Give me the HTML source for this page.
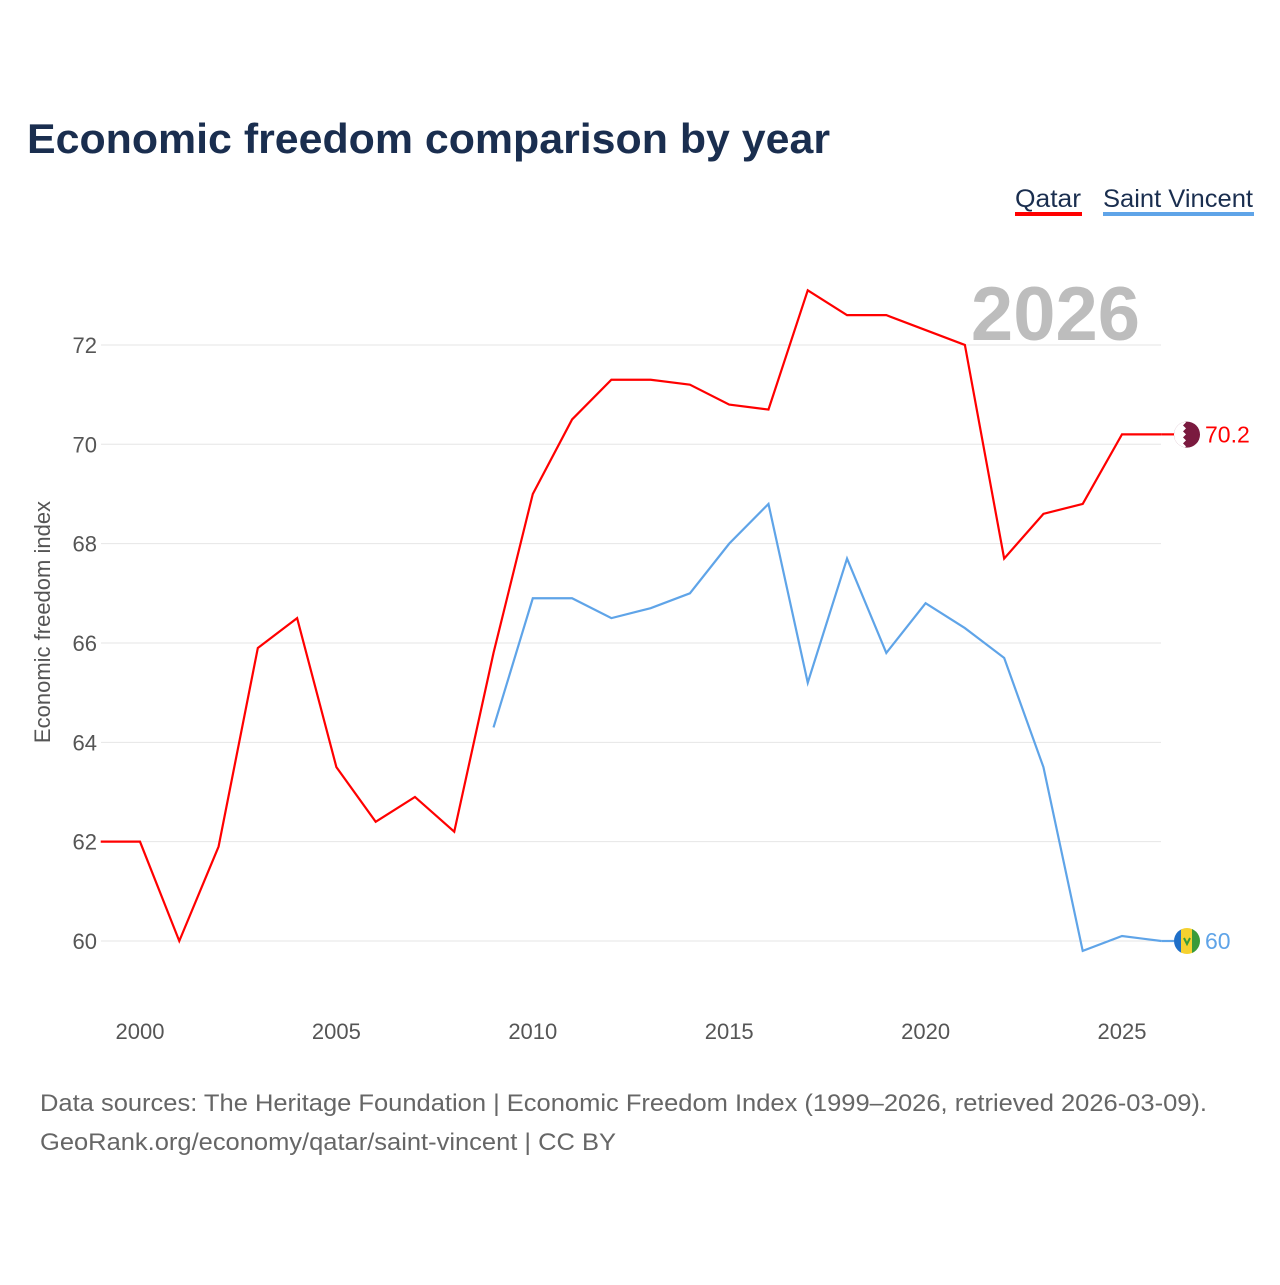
<!DOCTYPE html>
<html><head><meta charset="utf-8">
<style>
body{margin:0;background:#fff;width:1280px;height:1280px;overflow:hidden;font-family:"Liberation Sans",sans-serif}
</style></head>
<body>
<svg width="1280" height="1280">
<defs>
<clipPath id="cq"><circle cx="1187" cy="434.6" r="13"/></clipPath>
<clipPath id="cs"><circle cx="1187" cy="941" r="13"/></clipPath>
</defs>
<text x="27" y="153" font-size="42" font-weight="bold" fill="#1a2e4f" textLength="803" lengthAdjust="spacingAndGlyphs">Economic freedom comparison by year</text>
<g><text x="1015" y="207" font-size="25" fill="#1a2e4f" textLength="66" lengthAdjust="spacingAndGlyphs">Qatar</text><rect x="1015" y="212" width="67" height="4" fill="#ff0000"/></g>
<g><text x="1103" y="207" font-size="25" fill="#1a2e4f" textLength="150" lengthAdjust="spacingAndGlyphs">Saint Vincent</text><rect x="1103" y="212" width="151" height="4" fill="#5fa4e8"/></g>
<text x="1140" y="340" font-size="76" font-weight="bold" fill="#bdbdbd" text-anchor="end">2026</text>
<g id="grid"></g><g id="xt"></g><g id="lines"></g>
<text transform="translate(50,622) rotate(-90)" font-size="22" fill="#555" text-anchor="middle">Economic freedom index</text>
<text x="40" y="1111" font-size="24" fill="#666" textLength="1167" lengthAdjust="spacingAndGlyphs">Data sources: The Heritage Foundation | Economic Freedom Index (1999–2026, retrieved 2026-03-09).</text>
<text x="40" y="1150" font-size="24" fill="#666" textLength="576" lengthAdjust="spacingAndGlyphs">GeoRank.org/economy/qatar/saint-vincent | CC BY</text>
</svg>
<script>
const qatarYears=[1999,2000,2001,2002,2003,2004,2005,2006,2007,2008,2009,2010,2011,2012,2013,2014,2015,2016,2017,2018,2019,2020,2021,2022,2023,2024,2025,2026];
const qatarValues=[62.0,62.0,60.0,61.9,65.9,66.5,63.5,62.4,62.9,62.2,65.8,69.0,70.5,71.3,71.3,71.2,70.8,70.7,73.1,72.6,72.6,72.3,72.0,67.7,68.6,68.8,70.2,70.2];
const svcYears=[2009,2010,2011,2012,2013,2014,2015,2016,2017,2018,2019,2020,2021,2022,2023,2024,2025,2026];
const svcValues=[64.3,66.9,66.9,66.5,66.7,67.0,68.0,68.8,65.2,67.7,65.8,66.8,66.3,65.7,63.5,59.8,60.1,60.0];
const yTicks=[60,62,64,66,68,70,72];
const xTicks=[2000,2005,2010,2015,2020,2025];
const X=y=>140+(y-2000)*39.28, Y=v=>941-(v-60)*49.67;
const NS="http://www.w3.org/2000/svg";
function mk(t,a,p){const e=document.createElementNS(NS,t);for(const k in a)e.setAttribute(k,a[k]);p.appendChild(e);return e;}
const g=document.getElementById('grid');
yTicks.forEach(v=>{
 const l=mk('line',{x1:101,x2:1161,y1:Y(v),y2:Y(v),stroke:'#e6e6e6','stroke-width':1},g);
 
 
 const t=mk('text',{x:97,y:Y(v)+8,'font-size':22,fill:'#555','text-anchor':'end'},g);t.textContent=v;
 
 
});
const xt=document.getElementById('xt');
xTicks.forEach(v=>{const t=mk('text',{x:X(v),y:1039,'font-size':22,fill:'#555','text-anchor':'middle'},xt);t.textContent=v;
 
 });
const L=document.getElementById('lines');
function series(ys,vs,c,name){
 const p=mk('polyline',{points:ys.map((y,i)=>X(y)+','+Y(vs[i])).join(' '),fill:'none',stroke:c,'stroke-width':2.2},L);
 
 
 const last=vs[vs.length-1], cy=Y(last);
 mk('line',{x1:X(ys[ys.length-1]),x2:1174,y1:cy,y2:cy,stroke:c,'stroke-width':2.2},L);
 const fg=mk('g',{'clip-path':name=='qatar'?'url(#cq)':'url(#cs)'},L);
 
 
 if(name=='qatar'){
  mk('rect',{x:1170,y:cy-15,width:34,height:30,fill:'#7a1a3f'},fg);
  mk('path',{d:`M1170,${cy-15} h13 l3,3 l-3,3 l3,3 l-3,3 l3,3 l-3,3 l3,3 l-3,3 l3,3 l-3,3 l-13,0z`,fill:'#fff'},fg);
 } else {
  mk('rect',{x:1170,y:cy-15,width:12,height:30,fill:'#1f6fc8'},fg);
  mk('rect',{x:1181,y:cy-15,width:12,height:30,fill:'#f5d130'},fg);
  mk('rect',{x:1192,y:cy-15,width:12,height:30,fill:'#3a9b3a'},fg);
  mk('path',{d:`M1184,${cy-3} l3,6 l3,-6`,fill:'none',stroke:'#3a9b3a','stroke-width':2},fg);
 }
 const t=mk('text',{x:1205,y:cy+8,'font-size':23,fill:c},L);t.textContent=last;
 
 
}
series(qatarYears,qatarValues,'#ff0000','qatar');
series(svcYears,svcValues,'#5fa4e8','saint-vincent');
</script>
</body></html>
